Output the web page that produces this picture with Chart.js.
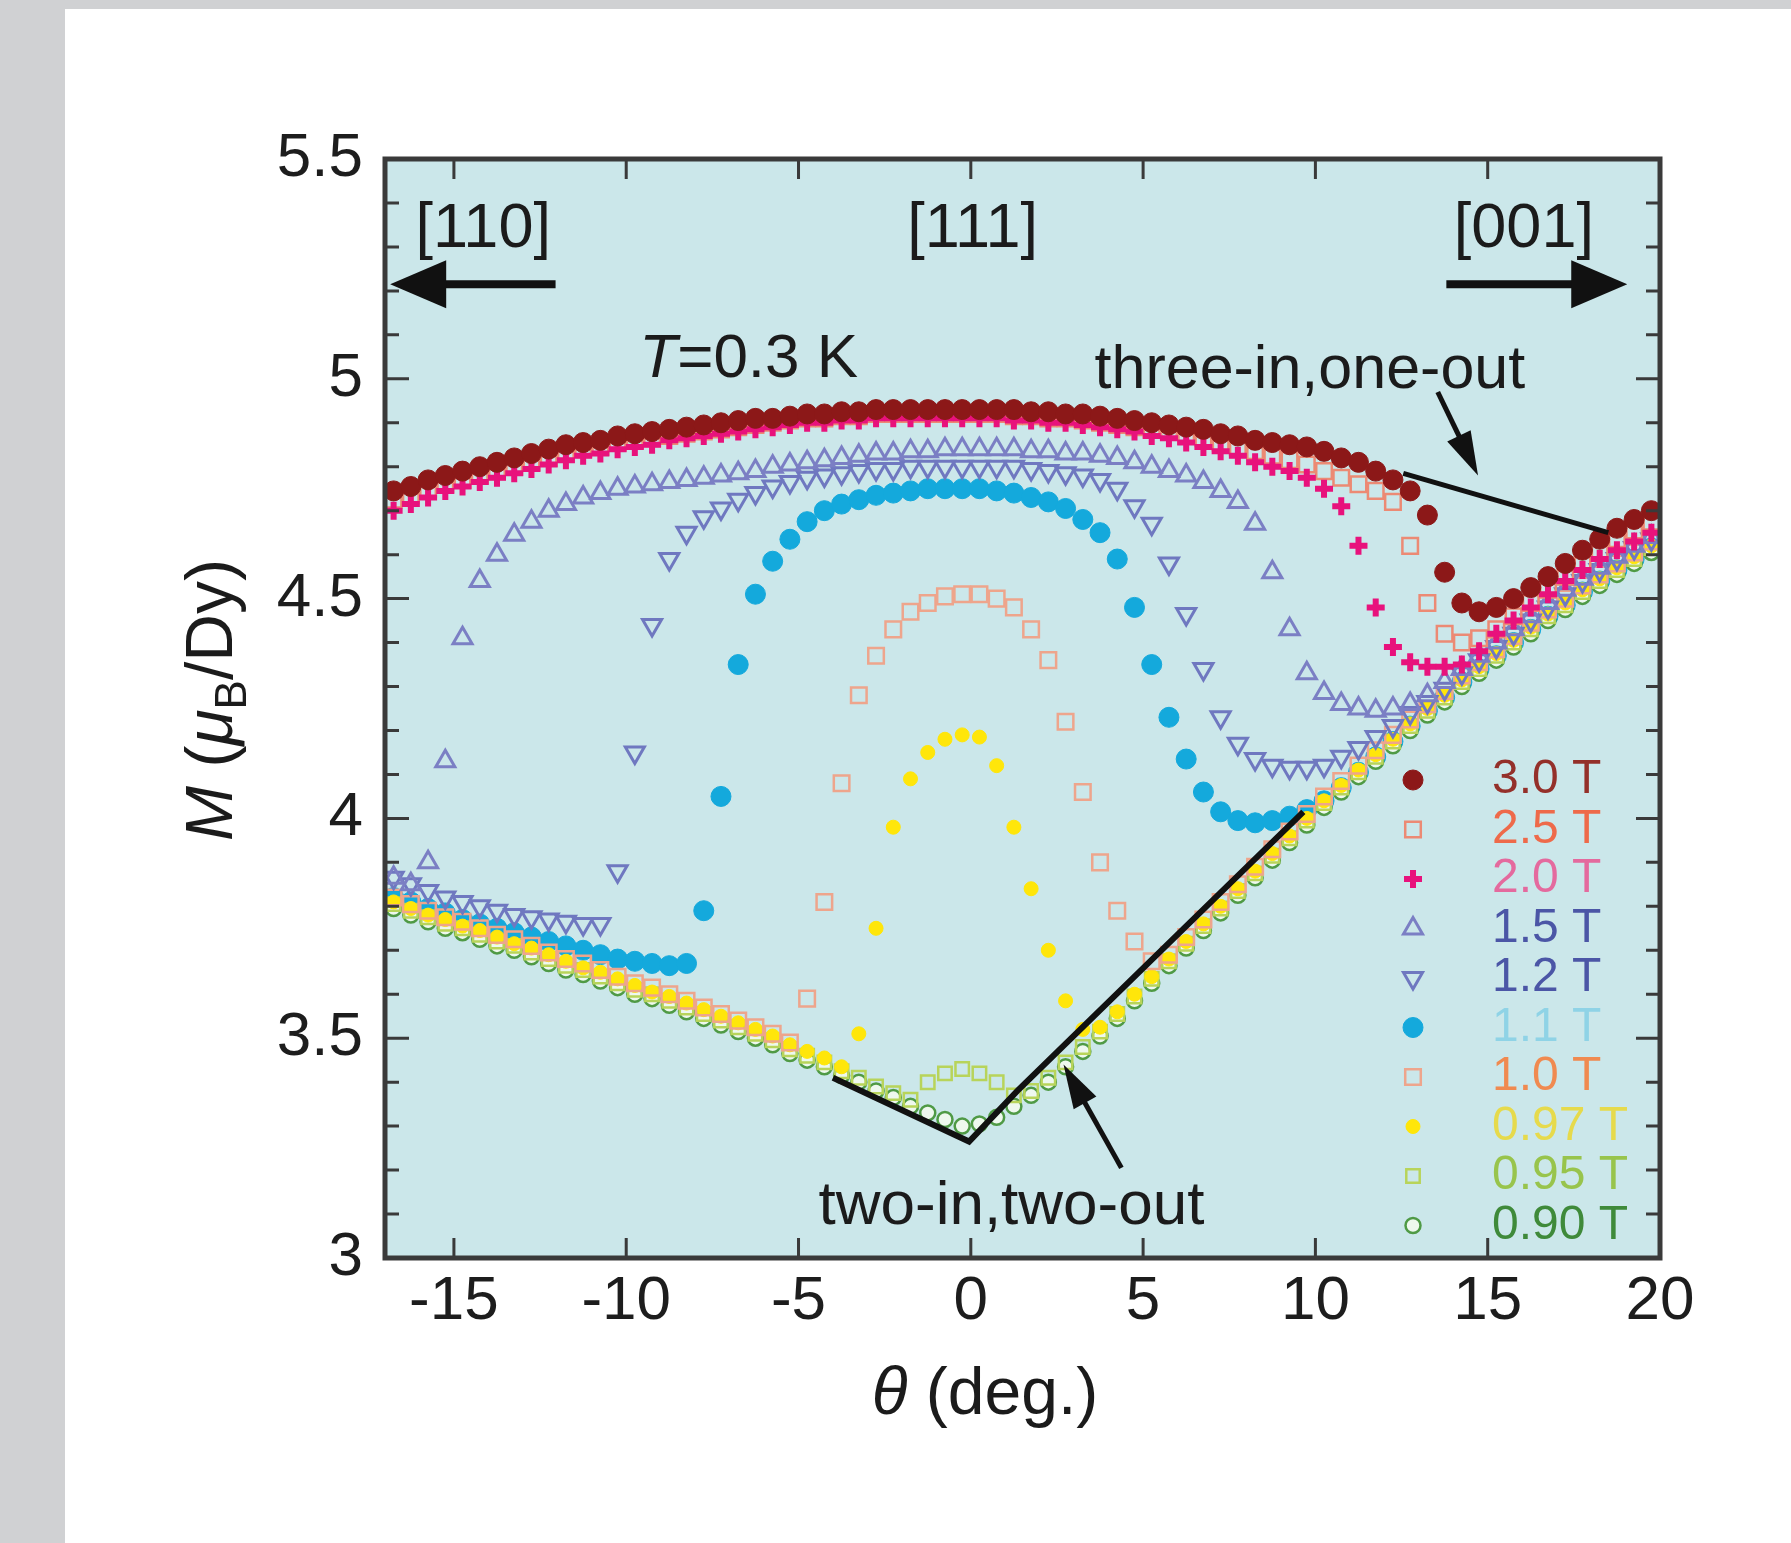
<!DOCTYPE html>
<html>
<head>
<meta charset="utf-8">
<script src="https://cdn.jsdelivr.net/npm/chart.js@4.4.1/dist/chart.umd.min.js"></script>
<style>
  html, body { margin: 0; padding: 0; background: #d0d1d3; width: 1791px; height: 1543px; overflow: hidden; }
  #panel { position: absolute; left: 65px; top: 9px; right: 0; bottom: 0; background: #ffffff; }
  #wrap { position: absolute; left: 0; top: 0; width: 1791px; height: 1543px; }
</style>
</head>
<body>
<div id="panel"></div>
<div id="wrap"><canvas id="chart" width="1791" height="1543"></canvas></div>
<script>
var FONT = "'Liberation Sans', Arial, Helvetica, sans-serif";

// field angle (deg), same grid for every field
var theta = [-16.75, -16.25, -15.75, -15.25, -14.75, -14.25, -13.75, -13.25, -12.75, -12.25,
  -11.75, -11.25, -10.75, -10.25, -9.75, -9.25, -8.75, -8.25, -7.75, -7.25,
  -6.75, -6.25, -5.75, -5.25, -4.75, -4.25, -3.75, -3.25, -2.75, -2.25,
  -1.75, -1.25, -0.75, -0.25, 0.25, 0.75, 1.25, 1.75, 2.25, 2.75,
  3.25, 3.75, 4.25, 4.75, 5.25, 5.75, 6.25, 6.75, 7.25, 7.75,
  8.25, 8.75, 9.25, 9.75, 10.25, 10.75, 11.25, 11.75, 12.25, 12.75,
  13.25, 13.75, 14.25, 14.75, 15.25, 15.75, 16.25, 16.75, 17.25, 17.75,
  18.25, 18.75, 19.25, 19.75];

// magnetization M (muB/Dy) for each field
var m30 = [4.745, 4.755, 4.77, 4.78, 4.79, 4.80, 4.81, 4.82, 4.83, 4.84,
  4.85, 4.855, 4.86, 4.87, 4.875, 4.88, 4.885, 4.89, 4.895, 4.90,
  4.905, 4.91, 4.91, 4.915, 4.92, 4.92, 4.925, 4.925, 4.93, 4.93,
  4.93, 4.93, 4.93, 4.93, 4.93, 4.93, 4.93, 4.925, 4.925, 4.92,
  4.92, 4.915, 4.91, 4.905, 4.90, 4.895, 4.89, 4.885, 4.875, 4.87,
  4.86, 4.855, 4.85, 4.845, 4.835, 4.82, 4.81, 4.79, 4.77, 4.745,
  4.69, 4.56, 4.49, 4.47, 4.48, 4.50, 4.525, 4.55, 4.58, 4.61,
  4.635, 4.66, 4.68, 4.70];
var m25 = [4.725, 4.735, 4.75, 4.76, 4.77, 4.78, 4.79, 4.80, 4.81, 4.82,
  4.83, 4.84, 4.845, 4.855, 4.86, 4.865, 4.87, 4.875, 4.88, 4.885,
  4.89, 4.895, 4.90, 4.905, 4.91, 4.91, 4.915, 4.915, 4.92, 4.92,
  4.92, 4.92, 4.92, 4.92, 4.92, 4.92, 4.915, 4.915, 4.91, 4.91,
  4.905, 4.90, 4.895, 4.89, 4.885, 4.88, 4.87, 4.865, 4.855, 4.845,
  4.835, 4.825, 4.815, 4.805, 4.79, 4.775, 4.76, 4.745, 4.72, 4.62,
  4.49, 4.42, 4.40, 4.41, 4.43, 4.46, 4.49, 4.52, 4.55, 4.58,
  4.61, 4.635, 4.655, 4.675];
var m20 = [4.70, 4.715, 4.73, 4.745, 4.755, 4.765, 4.775, 4.785, 4.795, 4.805,
  4.815, 4.825, 4.83, 4.84, 4.845, 4.85, 4.86, 4.865, 4.87, 4.875,
  4.88, 4.885, 4.89, 4.895, 4.90, 4.90, 4.905, 4.905, 4.91, 4.91,
  4.91, 4.91, 4.91, 4.91, 4.91, 4.91, 4.905, 4.905, 4.90, 4.90,
  4.895, 4.89, 4.885, 4.88, 4.87, 4.865, 4.855, 4.845, 4.835, 4.825,
  4.81, 4.80, 4.79, 4.775, 4.75, 4.71, 4.62, 4.48, 4.39, 4.355,
  4.345, 4.345, 4.35, 4.38, 4.42, 4.45, 4.48, 4.51, 4.54, 4.565,
  4.59, 4.61, 4.63, 4.65];
var m15 = [3.865, 3.85, 3.90, 4.13, 4.41, 4.54, 4.60, 4.645, 4.675, 4.70,
  4.715, 4.73, 4.74, 4.75, 4.755, 4.76, 4.765, 4.77, 4.775, 4.78,
  4.785, 4.79, 4.80, 4.805, 4.81, 4.815, 4.82, 4.825, 4.83, 4.83,
  4.835, 4.835, 4.84, 4.84, 4.84, 4.84, 4.84, 4.835, 4.835, 4.83,
  4.83, 4.825, 4.82, 4.81, 4.80, 4.79, 4.78, 4.765, 4.745, 4.72,
  4.67, 4.56, 4.43, 4.33, 4.285, 4.26, 4.25, 4.245, 4.25, 4.26,
  4.28, 4.31, 4.34, 4.37, 4.40, 4.43, 4.46, 4.49, 4.52, 4.545,
  4.57, 4.595, 4.62, 4.64];
var m12 = [3.865, 3.85, 3.835, 3.82, 3.81, 3.80, 3.79, 3.78, 3.775, 3.77,
  3.765, 3.76, 3.76, 3.88, 4.15, 4.44, 4.59, 4.65, 4.685, 4.705,
  4.725, 4.74, 4.755, 4.765, 4.775, 4.78, 4.785, 4.79, 4.795, 4.795,
  4.80, 4.80, 4.80, 4.80, 4.80, 4.80, 4.80, 4.795, 4.79, 4.785,
  4.78, 4.77, 4.75, 4.71, 4.67, 4.58, 4.465, 4.34, 4.23, 4.17,
  4.135, 4.12, 4.115, 4.115, 4.12, 4.14, 4.16, 4.185, 4.21, 4.24,
  4.265, 4.295, 4.33, 4.36, 4.39, 4.42, 4.45, 4.48, 4.51, 4.54,
  4.565, 4.59, 4.615, 4.635];
var m11 = [3.82, 3.81, 3.795, 3.785, 3.77, 3.76, 3.75, 3.74, 3.73, 3.72,
  3.71, 3.70, 3.69, 3.68, 3.675, 3.67, 3.665, 3.67, 3.79, 4.05,
  4.35, 4.51, 4.585, 4.635, 4.675, 4.70, 4.715, 4.725, 4.735, 4.74,
  4.745, 4.75, 4.75, 4.75, 4.75, 4.745, 4.74, 4.73, 4.72, 4.705,
  4.68, 4.65, 4.59, 4.48, 4.35, 4.23, 4.135, 4.06, 4.015, 3.995,
  3.99, 3.995, 4.005, 4.02, 4.04, 4.07, 4.105, 4.14, 4.175, 4.21,
  4.245, 4.275, 4.31, 4.34, 4.37, 4.40, 4.43, 4.46, 4.485, 4.515,
  4.54, 4.565, 4.59, 4.615];
var m10 = [3.82, 3.805, 3.79, 3.775, 3.765, 3.75, 3.735, 3.725, 3.71, 3.695,
  3.68, 3.67, 3.655, 3.64, 3.625, 3.615, 3.60, 3.585, 3.57, 3.555,
  3.54, 3.525, 3.51, 3.49, 3.59, 3.81, 4.08, 4.28, 4.37, 4.43,
  4.47, 4.49, 4.505, 4.51, 4.51, 4.50, 4.48, 4.43, 4.36, 4.22,
  4.06, 3.90, 3.79, 3.72, 3.675, 3.69, 3.73, 3.77, 3.81, 3.85,
  3.89, 3.93, 3.97, 4.01, 4.05, 4.085, 4.12, 4.155, 4.19, 4.225,
  4.26, 4.29, 4.325, 4.355, 4.385, 4.415, 4.445, 4.475, 4.50, 4.53,
  4.555, 4.58, 4.605, 4.63];
var m097 = [3.81, 3.795, 3.78, 3.77, 3.755, 3.745, 3.73, 3.715, 3.705, 3.69,
  3.675, 3.66, 3.65, 3.635, 3.62, 3.605, 3.595, 3.58, 3.565, 3.55,
  3.535, 3.52, 3.505, 3.485, 3.47, 3.455, 3.435, 3.51, 3.75, 3.98,
  4.09, 4.15, 4.18, 4.19, 4.185, 4.12, 3.98, 3.84, 3.70, 3.585,
  3.52, 3.525, 3.56, 3.60, 3.64, 3.68, 3.72, 3.76, 3.80, 3.84,
  3.88, 3.92, 3.96, 4.00, 4.04, 4.075, 4.11, 4.145, 4.18, 4.215,
  4.25, 4.28, 4.315, 4.345, 4.375, 4.405, 4.435, 4.465, 4.49, 4.52,
  4.545, 4.57, 4.595, 4.62];
var m095 = [3.805, 3.79, 3.775, 3.76, 3.75, 3.735, 3.72, 3.71, 3.695, 3.68,
  3.665, 3.655, 3.64, 3.625, 3.61, 3.60, 3.585, 3.57, 3.555, 3.54,
  3.525, 3.51, 3.495, 3.475, 3.46, 3.445, 3.425, 3.41, 3.39, 3.375,
  3.36, 3.40, 3.42, 3.43, 3.42, 3.40, 3.37, 3.38, 3.41, 3.445,
  3.48, 3.515, 3.555, 3.595, 3.635, 3.675, 3.715, 3.755, 3.795, 3.835,
  3.875, 3.915, 3.955, 3.995, 4.035, 4.07, 4.105, 4.14, 4.175, 4.21,
  4.245, 4.275, 4.31, 4.34, 4.37, 4.40, 4.43, 4.46, 4.485, 4.515,
  4.54, 4.565, 4.59, 4.615];
var m090 = [3.795, 3.78, 3.765, 3.75, 3.74, 3.725, 3.71, 3.70, 3.685, 3.67,
  3.655, 3.645, 3.63, 3.615, 3.60, 3.59, 3.575, 3.56, 3.545, 3.53,
  3.515, 3.50, 3.485, 3.465, 3.45, 3.435, 3.415, 3.40, 3.38, 3.365,
  3.345, 3.33, 3.315, 3.30, 3.305, 3.32, 3.345, 3.37, 3.40, 3.435,
  3.47, 3.505, 3.545, 3.585, 3.625, 3.665, 3.705, 3.745, 3.785, 3.825,
  3.865, 3.905, 3.945, 3.985, 4.025, 4.06, 4.095, 4.13, 4.165, 4.20,
  4.235, 4.265, 4.30, 4.33, 4.36, 4.39, 4.42, 4.45, 4.475, 4.505,
  4.53, 4.555, 4.58, 4.605];

var fieldLabels = ['3.0 T', '2.5 T', '2.0 T', '1.5 T', '1.2 T', '1.1 T', '1.0 T', '0.97 T', '0.95 T', '0.90 T'];

// guide lines drawn on the figure
var twoInX = [-4.0, -0.05, 1.35, 9.65];
var twoInY = [3.41, 3.265, 3.38, 4.015];
var threeInX = [12.55, 18.5];
var threeInY = [4.785, 4.65];

var xTicks = [-15, -10, -5, 0, 5, 10, 15, 20];
var yTicks = [3, 3.5, 4, 4.5, 5, 5.5];

function pts(xs, ys) {
  return xs.map(function (x, i) { return { x: x, y: ys[i] }; });
}
function font(size, italic) {
  return (italic ? 'italic ' : '') + size + 'px ' + FONT;
}

var series = [m30, m25, m20, m15, m12, m11, m10, m097, m095, m090];
var looks = [
  { border: '#8c1818', fill: '#8c1818', style: 'circle', r: 10, bw: 1, text: '#94302a', order: 0 },
  { border: '#ec8a74', fill: 'rgba(0,0,0,0)', style: 'rect', r: 11, bw: 2.5, text: '#ee6a4a', order: 2 },
  { border: '#e8127c', fill: '#e8127c', style: 'cross', r: 9, bw: 6, text: '#e46a9e', order: 1 },
  { border: '#7b7fc4', fill: 'rgba(0,0,0,0)', style: 'triangle', r: 11, bw: 3, text: '#4b56a6', order: 3 },
  { border: '#6f78c0', fill: 'rgba(0,0,0,0)', style: 'triangle', rot: 180, r: 11, bw: 3, text: '#4b56a6', order: 4 },
  { border: '#14a9dc', fill: '#14a9dc', style: 'circle', r: 10, bw: 1, text: '#8fd3e6', order: 9 },
  { border: '#eea58c', fill: 'rgba(0,0,0,0)', style: 'rect', r: 11, bw: 2.5, text: '#f08a50', order: 5 },
  { border: '#ffe60a', fill: '#ffe60a', style: 'circle', r: 7, bw: 1, text: '#e6da4c', order: 6 },
  { border: '#b8d45a', fill: 'rgba(0,0,0,0)', style: 'rect', r: 9.5, bw: 2.5, text: '#98c44c', order: 7 },
  { border: '#4f9a45', fill: '#eef8ee', style: 'circle', r: 7.5, bw: 2.5, text: '#3f8a3a', order: 8 }
];

var datasets = series.map(function (m, i) {
  var lk = looks[i];
  return {
    label: fieldLabels[i],
    data: pts(theta, m),
    showLine: false,
    pointStyle: lk.style,
    pointRotation: lk.rot || 0,
    pointRadius: lk.r,
    pointBorderWidth: lk.bw,
    pointBorderColor: lk.border,
    pointBackgroundColor: lk.fill,
    borderColor: lk.border,
    backgroundColor: lk.fill,
    order: lk.order,
    clip: 0
  };
});
datasets.push({
  label: 'two-in,two-out', data: pts(twoInX, twoInY), showLine: true,
  borderColor: '#111', borderWidth: 6, pointRadius: 0, order: -1, clip: 0
});
datasets.push({
  label: 'three-in,one-out', data: pts(threeInX, threeInY), showLine: true,
  borderColor: '#111', borderWidth: 5, pointRadius: 0, order: -1, clip: 0
});

function drawRuns(ctx, runs, x, y, align) {
  var total = 0;
  runs.forEach(function (r) { ctx.font = r.font; r.w = ctx.measureText(r.t).width; total += r.w; });
  var cx = align === 'center' ? x - total / 2 : x;
  ctx.textAlign = 'left';
  ctx.textBaseline = 'alphabetic';
  runs.forEach(function (r) {
    ctx.font = r.font;
    ctx.fillText(r.t, cx, y + (r.dy || 0));
    cx += r.w;
  });
}

function arrow(ctx, x0, y0, x1, y1, width, headLen, headHalf) {
  var ang = Math.atan2(y1 - y0, x1 - x0);
  var len = Math.hypot(x1 - x0, y1 - y0);
  ctx.save();
  ctx.translate(x1, y1);
  ctx.rotate(ang);
  ctx.lineWidth = width;
  ctx.beginPath();
  ctx.moveTo(-len, 0);
  ctx.lineTo(-headLen + 2, 0);
  ctx.stroke();
  ctx.beginPath();
  ctx.moveTo(0, 0);
  ctx.lineTo(-headLen, -headHalf);
  ctx.lineTo(-headLen, headHalf);
  ctx.closePath();
  ctx.fill();
  ctx.restore();
}

var decorations = {
  id: 'decorations',
  beforeDraw: function (chart) {
    var a = chart.chartArea, ctx = chart.ctx;
    ctx.save();
    ctx.fillStyle = '#cbe7ea';
    ctx.fillRect(a.left, a.top, a.right - a.left, a.bottom - a.top);
    ctx.restore();
  },
  afterDatasetsDraw: function (chart) {
    var a = chart.chartArea, ctx = chart.ctx;
    var sx = chart.scales.x, sy = chart.scales.y;
    var X = function (v) { return sx.getPixelForValue(v); };
    var Y = function (v) { return sy.getPixelForValue(v); };
    ctx.save();

    // inward ticks
    ctx.strokeStyle = '#3a3a3a';
    ctx.lineWidth = 3;
    ctx.beginPath();
    xTicks.forEach(function (v) {
      var px = X(v);
      ctx.moveTo(px, a.bottom); ctx.lineTo(px, a.bottom - 20);
      ctx.moveTo(px, a.top); ctx.lineTo(px, a.top + 20);
    });
    for (var k = 0; k <= 25; k++) {
      var py = Y(3 + k * 0.1);
      var len = (k % 5 === 0) ? 24 : 14;
      ctx.moveTo(a.left, py); ctx.lineTo(a.left + len, py);
      ctx.moveTo(a.right, py); ctx.lineTo(a.right - len, py);
    }
    ctx.stroke();

    // frame
    ctx.lineWidth = 5;
    ctx.strokeRect(a.left, a.top, a.right - a.left, a.bottom - a.top);

    // direction labels and arrows
    ctx.fillStyle = '#1b1b1b';
    ctx.strokeStyle = '#111';
    drawRuns(ctx, [{ t: '[110]', font: font(63) }], X(-14.15), Y(5.30), 'center');
    drawRuns(ctx, [{ t: '[111]', font: font(63) }], X(0.05), Y(5.30), 'center');
    drawRuns(ctx, [{ t: '[001]', font: font(63) }], X(16.05), Y(5.30), 'center');
    ctx.fillStyle = '#111';
    arrow(ctx, X(-12.05), Y(5.215), X(-16.85), Y(5.215), 8, 56, 24);
    arrow(ctx, X(13.8), Y(5.215), X(19.05), Y(5.215), 8, 56, 24);

    ctx.fillStyle = '#1b1b1b';
    drawRuns(ctx, [{ t: 'T', font: font(62, true) }, { t: '=0.3 K', font: font(62) }], X(-9.62), Y(5.004), 'left');
    drawRuns(ctx, [{ t: 'three-in,one-out', font: font(61) }], X(3.59), Y(4.98), 'left');
    drawRuns(ctx, [{ t: 'two-in,two-out', font: font(62) }], X(-4.42), Y(3.077), 'left');
    ctx.fillStyle = '#111';
    arrow(ctx, X(13.55), Y(4.97), X(14.72), Y(4.78), 5, 44, 13);
    arrow(ctx, X(4.37), Y(3.205), X(2.69), Y(3.44), 5, 44, 13);

    // legend
    var lx = 1413, tx = 1492, ly = 780, step = 49.5;
    fieldLabels.forEach(function (lab, i) {
      var ds = chart.data.datasets[i];
      var cy = ly + i * step;
      ctx.fillStyle = ds.pointBackgroundColor;
      ctx.strokeStyle = ds.pointBorderColor;
      ctx.lineWidth = ds.pointBorderWidth;
      Chart.helpers.drawPoint(ctx, {
        pointStyle: ds.pointStyle, rotation: ds.pointRotation,
        radius: ds.pointRadius, borderWidth: ds.pointBorderWidth
      }, lx, cy);
      ctx.fillStyle = looks[i].text;
      ctx.font = font(48);
      ctx.textAlign = 'left';
      ctx.textBaseline = 'middle';
      ctx.fillText(lab, tx, cy);
    });

    // axis titles
    ctx.fillStyle = '#1b1b1b';
    drawRuns(ctx, [{ t: '\u03B8', font: font(66, true) }, { t: ' (deg.)', font: font(66) }], 985, 1414, 'center');
    ctx.translate(232, 700);
    ctx.rotate(-Math.PI / 2);
    drawRuns(ctx, [
      { t: 'M', font: font(66, true) },
      { t: ' (', font: font(66) },
      { t: '\u03BC', font: font(66, true) },
      { t: 'B', font: font(44), dy: 14 },
      { t: '/Dy)', font: font(66) }
    ], 0, 0, 'center');
    ctx.restore();
  }
};

new Chart(document.getElementById('chart').getContext('2d'), {
  type: 'scatter',
  data: { datasets: datasets },
  options: {
    responsive: false,
    animation: false,
    devicePixelRatio: 1,
    layout: { padding: { top: 159, right: 131, left: 0, bottom: 0 } },
    plugins: { legend: { display: false }, tooltip: { enabled: false } },
    scales: {
      x: {
        type: 'linear', min: -17, max: 20,
        afterBuildTicks: function (s) { s.ticks = xTicks.map(function (v) { return { value: v }; }); },
        afterFit: function (s) { s.height = 285; },
        grid: { display: false, drawTicks: false },
        border: { display: false },
        ticks: {
          font: { size: 62, family: FONT }, color: '#1d1d1d', padding: 7,
          maxRotation: 0, autoSkip: false,
          callback: function (v) { return String(v); }
        }
      },
      y: {
        type: 'linear', min: 3, max: 5.5,
        afterBuildTicks: function (s) { s.ticks = yTicks.map(function (v) { return { value: v }; }); },
        afterFit: function (s) { s.width = 385; },
        grid: { display: false, drawTicks: false },
        border: { display: false },
        ticks: {
          font: { size: 62, family: FONT }, color: '#1d1d1d', padding: 22,
          callback: function (v) { return String(v); }
        }
      }
    }
  },
  plugins: [decorations]
});
</script>
</body>
</html>
